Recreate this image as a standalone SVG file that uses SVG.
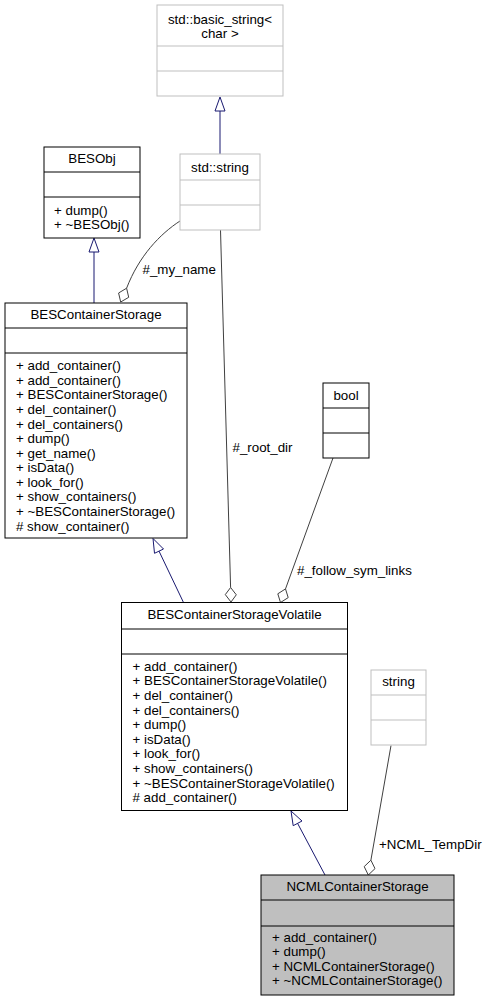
<svg xmlns="http://www.w3.org/2000/svg" width="488" height="1001" viewBox="0 0 488 1001">
<style>
text{font-family:"Liberation Sans",Arial,sans-serif;font-size:13.33px;fill:#000}
.c{text-anchor:middle}
.box{fill:#fff;stroke:#000;stroke-width:1}
.gbox{fill:#fff;stroke:#bfbfbf;stroke-width:1}
.sel{fill:#bfbfbf;stroke:#000;stroke-width:1}
.dk{stroke:#000;stroke-width:1}
.gl{stroke:#bfbfbf;stroke-width:1}
.inh{fill:none;stroke:#191970;stroke-width:1}
.inhh{fill:#fff;stroke:#191970;stroke-width:1}
.agg{fill:none;stroke:#404040;stroke-width:1}
.aggh{fill:#fff;stroke:#404040;stroke-width:1}
</style>
<rect width="488" height="1001" fill="#fff"/>
<g id="edges">
<line class="inh" x1="220" y1="154" x2="220" y2="111"/>
<polygon class="inhh" points="220,97 215,111 225,111"/>
<line class="inh" x1="94" y1="303" x2="94" y2="252"/>
<polygon class="inhh" points="94,238 89,252 99,252"/>
<line class="inh" x1="183.5" y1="602.5" x2="159" y2="551.1"/>
<polygon class="inhh" points="153,538.5 163.5,549 154.5,553.3"/>
<line class="inh" x1="325" y1="875" x2="297.6" y2="823.4"/>
<polygon class="inhh" points="291,811 302,821 293.2,825.7"/>
<path class="agg" d="M180,221 C160,234 139,256 126.6,288.2"/>
<polygon class="aggh" points="120.7,302 128.7,297.3 126.6,288.2 118.6,293"/>
<line class="agg" x1="220.5" y1="230" x2="230.6" y2="587.5"/>
<polygon class="aggh" points="231,602 236.3,594.8 230.6,587.5 225.3,594.6"/>
<line class="agg" x1="333" y1="458" x2="285.5" y2="588.9"/>
<polygon class="aggh" points="280.5,602.5 288.2,597.6 285.5,588.9 277.8,593.8"/>
<line class="agg" x1="391" y1="745.5" x2="370.9" y2="860.2"/>
<polygon class="aggh" points="368.3,875 375,868.6 370.9,860.2 364.2,866.6"/>
<text x="142.5" y="273.5">#_my_name</text>
<text x="232.5" y="451.5">#_root_dir</text>
<text x="297" y="574.5">#_follow_sym_links</text>
<text x="379" y="848.5">+NCML_TempDir</text>
</g>
<g id="basic_string">
<rect class="gbox" x="157" y="5" width="126" height="91"/>
<line class="gl" x1="157" y1="46" x2="283" y2="46"/>
<line class="gl" x1="157" y1="71" x2="283" y2="71"/>
<text class="c" x="220" y="23.5">std::basic_string&lt;</text>
<text class="c" x="220" y="38">char &gt;</text>
</g>
<g id="std_string">
<rect class="gbox" x="180" y="154" width="80" height="76"/>
<line class="gl" x1="180" y1="180" x2="260" y2="180"/>
<line class="gl" x1="180" y1="205" x2="260" y2="205"/>
<text class="c" x="220" y="171.5">std::string</text>
</g>
<g id="BESObj">
<rect class="box" x="44" y="147" width="96" height="91"/>
<line class="dk" x1="44" y1="172" x2="140" y2="172"/>
<line class="dk" x1="44" y1="197" x2="140" y2="197"/>
<text class="c" x="92" y="163">BESObj</text>
<text x="54" y="214.5">+ dump()</text>
<text x="54" y="229">+ ~BESObj()</text>
</g>
<g id="BESContainerStorage">
<rect class="box" x="5" y="303" width="182" height="235"/>
<line class="dk" x1="5" y1="328" x2="187" y2="328"/>
<line class="dk" x1="5" y1="353" x2="187" y2="353"/>
<text class="c" x="96" y="318.5">BESContainerStorage</text>
<text x="16" y="370.2">+ add_container()</text>
<text x="16" y="384.8">+ add_container()</text>
<text x="16" y="399.3">+ BESContainerStorage()</text>
<text x="16" y="413.9">+ del_container()</text>
<text x="16" y="428.5">+ del_containers()</text>
<text x="16" y="443.1">+ dump()</text>
<text x="16" y="457.6">+ get_name()</text>
<text x="16" y="472.2">+ isData()</text>
<text x="16" y="486.8">+ look_for()</text>
<text x="16" y="501.3">+ show_containers()</text>
<text x="16" y="515.9">+ ~BESContainerStorage()</text>
<text x="16" y="530.5"># show_container()</text>
</g>
<g id="bool">
<rect class="box" x="323" y="383" width="46" height="75"/>
<line class="dk" x1="323" y1="408" x2="369" y2="408"/>
<line class="dk" x1="323" y1="433" x2="369" y2="433"/>
<text class="c" x="346" y="399.5">bool</text>
</g>
<g id="BESContainerStorageVolatile">
<rect class="box" x="121.5" y="602.5" width="226" height="208"/>
<line class="dk" x1="121.5" y1="629" x2="347.5" y2="629"/>
<line class="dk" x1="121.5" y1="654" x2="347.5" y2="654"/>
<text class="c" x="234.5" y="618.5">BESContainerStorageVolatile</text>
<text x="132.5" y="670.5">+ add_container()</text>
<text x="132.5" y="685.2">+ BESContainerStorageVolatile()</text>
<text x="132.5" y="699.8">+ del_container()</text>
<text x="132.5" y="714.5">+ del_containers()</text>
<text x="132.5" y="729.1">+ dump()</text>
<text x="132.5" y="743.8">+ isData()</text>
<text x="132.5" y="758.4">+ look_for()</text>
<text x="132.5" y="773.1">+ show_containers()</text>
<text x="132.5" y="787.7">+ ~BESContainerStorageVolatile()</text>
<text x="132.5" y="802.4"># add_container()</text>
</g>
<g id="string">
<rect class="gbox" x="371" y="670" width="55" height="75"/>
<line class="gl" x1="371" y1="695" x2="426" y2="695"/>
<line class="gl" x1="371" y1="720" x2="426" y2="720"/>
<text class="c" x="398.5" y="685.5">string</text>
</g>
<g id="NCMLContainerStorage">
<rect class="sel" x="261" y="875" width="193" height="120"/>
<line class="dk" x1="261" y1="900" x2="454" y2="900"/>
<line class="dk" x1="261" y1="926" x2="454" y2="926"/>
<text class="c" x="357.5" y="891">NCMLContainerStorage</text>
<text x="272" y="941.5">+ add_container()</text>
<text x="272" y="956.1">+ dump()</text>
<text x="272" y="970.7">+ NCMLContainerStorage()</text>
<text x="272" y="985.3">+ ~NCMLContainerStorage()</text>
</g>
</svg>
